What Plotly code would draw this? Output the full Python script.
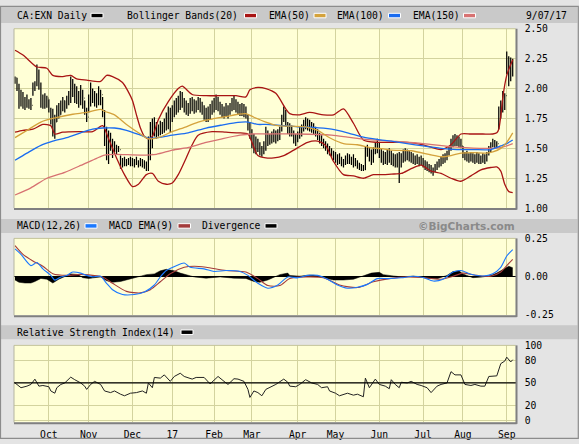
import plotly.graph_objects as go

# ---------------- data ----------------
month_labels = ["Oct", "Nov", "Dec", "17", "Feb", "Mar", "Apr", "May", "Jun", "Jul", "Aug", "Sep"]
# trading days per month: Sep-16 (partial) ... Sep-17 (partial)
month_days = [17, 20, 22, 20, 21, 19, 23, 19, 22, 22, 20, 22, 4]

# daily prices in cents
high_c = [
    210, 209, 204, 199, 197, 193, 195, 191, 192, 205, 206, 220, 216, 205, 195, 196, 194,
    191, 184, 183, 178, 186, 188, 190, 193, 190, 194, 198, 210, 208, 204, 202, 198, 203, 199, 190, 184,
    195, 205, 200, 198, 196, 202, 199, 193, 182, 168, 165, 163, 158, 156, 153, 152, 144, 142, 143, 141, 142, 143,
    142, 141, 143, 140, 142, 141, 140, 139, 160, 172, 175, 176, 172, 170, 173, 172, 175, 180, 185, 184,
    186, 190, 192, 194, 198, 197, 192, 190, 188, 192, 193, 191, 190, 193, 192, 189, 186, 184, 185, 187, 190,
    192, 195, 193, 189, 187, 185, 188, 186, 188, 192, 194, 191, 189, 187, 188, 187, 185, 178, 172,
    166, 162, 160, 158, 155, 152, 156, 168, 165, 162, 164, 166, 165, 166, 168, 178, 185, 182, 172, 171, 169, 165, 162,
    164, 168, 170, 174, 176, 175, 174, 172, 171, 168, 166, 163, 161, 158, 156, 154, 152, 150, 148,
    147, 145, 146, 143, 141, 144, 146, 145, 143, 145, 142, 140, 138, 137, 136, 152, 153, 150, 149, 151, 155, 158,
    155, 150, 148, 147, 149, 150, 148, 146, 145, 146, 147, 146, 149, 150, 149, 148, 147, 146, 144, 145, 143, 144,
    142, 140, 139, 137, 136, 134, 137, 139, 141, 143, 145, 146, 148, 152, 158, 161, 162, 161, 160, 158,
    152, 147, 148, 146, 147, 146, 145, 147, 146, 144, 146, 145, 147, 152, 155, 158, 157, 156, 185, 190, 198, 196,
    231, 227, 226, 225,
]
low_c = [
    204, 198, 183, 185, 183, 182, 184, 183, 182, 194, 198, 202, 199, 184, 183, 183, 184,
    180, 170, 160, 158, 172, 175, 178, 181, 180, 183, 186, 188, 193, 188, 187, 184, 186, 183, 178, 172,
    180, 185, 188, 185, 184, 186, 186, 176, 152, 140, 137, 148, 142, 147, 145, 147, 133, 134, 135, 135, 136, 135,
    135, 134, 136, 134, 135, 134, 133, 131, 131, 140, 150, 160, 158, 160, 161, 162, 163, 165, 166, 163,
    172, 176, 178, 180, 182, 184, 180, 178, 177, 179, 181, 179, 180, 182, 180, 178, 174, 172, 172, 174, 178,
    180, 182, 181, 178, 176, 175, 177, 175, 178, 181, 182, 180, 178, 177, 177, 176, 175, 165, 158,
    150, 146, 145, 147, 144, 143, 145, 148, 152, 153, 154, 155, 154, 156, 157, 164, 172, 168, 162, 160, 160, 154, 152,
    155, 158, 160, 164, 166, 165, 164, 163, 162, 160, 157, 154, 152, 150, 148, 145, 144, 143, 140,
    138, 136, 137, 135, 134, 136, 137, 137, 136, 134, 135, 133, 132, 131, 131, 132, 143, 139, 136, 138, 145, 146,
    142, 138, 136, 137, 136, 138, 136, 135, 134, 134, 121, 134, 138, 139, 140, 139, 138, 137, 136, 137, 135, 136,
    134, 132, 131, 130, 129, 127, 130, 132, 134, 135, 137, 138, 140, 144, 148, 151, 152, 152, 151, 150,
    142, 140, 139, 138, 139, 138, 137, 138, 137, 137, 138, 137, 139, 144, 147, 151, 150, 150, 166, 175, 180, 182,
    212, 202, 206, 210,
]
close_c = [
    209, 200, 190, 195, 186, 188, 187, 189, 186, 200, 204, 215, 202, 188, 190, 186, 192,
    183, 176, 165, 172, 182, 178, 186, 190, 184, 192, 190, 205, 198, 195, 190, 193, 188, 192, 181, 176,
    188, 198, 194, 190, 193, 190, 195, 180, 156, 150, 160, 152, 155, 150, 149, 149, 138, 140, 137, 139, 138, 140,
    138, 139, 137, 138, 140, 136, 135, 133, 155, 145, 170, 168, 166, 164, 170, 167, 172, 176, 182, 180,
    182, 188, 184, 190, 195, 188, 185, 182, 186, 188, 190, 184, 188, 191, 186, 183, 178, 180, 176, 183, 186,
    188, 190, 185, 183, 180, 182, 184, 179, 186, 189, 190, 185, 184, 182, 185, 180, 178, 168, 162,
    155, 150, 156, 150, 148, 146, 154, 160, 156, 158, 160, 158, 162, 163, 165, 176, 178, 170, 168, 166, 163, 158, 160,
    162, 165, 168, 172, 170, 173, 168, 170, 166, 164, 160, 158, 155, 152, 150, 148, 146, 145, 143,
    140, 142, 139, 137, 138, 141, 143, 139, 141, 138, 137, 135, 134, 133, 132, 150, 146, 142, 140, 148, 152, 150,
    145, 141, 145, 140, 146, 142, 139, 141, 137, 140, 136, 144, 145, 147, 146, 143, 144, 140, 141, 139, 138, 140,
    137, 135, 134, 132, 131, 132, 135, 137, 139, 141, 143, 144, 146, 150, 156, 158, 160, 157, 155, 152,
    145, 145, 142, 141, 144, 140, 142, 143, 139, 141, 143, 140, 145, 150, 153, 155, 153, 154, 182, 188, 185, 194,
    225, 210, 220, 218,
]

# indicator lines (trading-day index, value)
bb_up_x = [0, 4, 8, 11, 16, 19, 24, 28, 31, 36, 43, 46, 49, 54, 57, 59, 61, 63, 65, 67, 69, 72, 77, 82, 84, 89, 96,
           103, 111, 116, 118, 122, 126, 131, 136, 138, 143, 148, 155, 160, 165, 170, 175, 182, 188, 197, 205, 214,
           219, 224, 229, 235, 240, 242, 243, 244, 245, 246, 247, 248, 249, 250]
bb_up_y = [2.32, 2.28, 2.22, 2.18, 2.17, 2.11, 2.10, 2.11, 2.08, 2.07, 2.06, 2.11, 2.10, 2.05, 1.97, 1.90, 1.78, 1.67,
           1.60, 1.58, 1.60, 1.74, 1.89, 2.00, 2.02, 1.95, 1.94, 1.94, 1.94, 1.93, 1.99, 2.01, 2.00, 1.96, 1.83, 1.79,
           1.78, 1.80, 1.78, 1.78, 1.83, 1.71, 1.57, 1.55, 1.55, 1.55, 1.53, 1.49, 1.53, 1.62, 1.62, 1.62, 1.62, 1.63,
           1.66, 1.77, 1.92, 2.03, 2.11, 2.16, 2.20, 2.24]
bb_lo_x = [0, 4, 9, 14, 18, 20, 24, 33, 39, 44, 47, 51, 55, 59, 62, 66, 69, 72, 76, 79, 82, 86, 89, 92, 99, 106, 112,
           117, 119, 122, 126, 130, 135, 140, 147, 152, 156, 160, 165, 170, 175, 180, 185, 189, 194, 199, 204, 209,
           214, 219, 224, 229, 234, 239, 242, 244, 246, 248, 250]
bb_lo_y = [1.635, 1.65, 1.66, 1.70, 1.69, 1.62, 1.635, 1.64, 1.64, 1.69, 1.58, 1.42, 1.28, 1.18, 1.20, 1.28, 1.29,
           1.225, 1.20, 1.21, 1.28, 1.42, 1.53, 1.61, 1.64, 1.635, 1.63, 1.62, 1.55, 1.44, 1.42, 1.42, 1.44, 1.485,
           1.55, 1.56, 1.525, 1.39, 1.28, 1.27, 1.25, 1.28, 1.28, 1.285, 1.29, 1.33, 1.36, 1.31, 1.29, 1.25, 1.225,
           1.27, 1.32, 1.34, 1.345, 1.31, 1.20, 1.14, 1.13]
ema50_x = [0, 6, 13, 19, 29, 36, 43, 45, 50, 56, 63, 67, 72, 79, 86, 92, 99, 106, 112, 116, 120, 126, 132, 139, 146,
           152, 159, 165, 172, 179, 185, 189, 199, 209, 214, 219, 224, 230, 237, 240, 244, 247, 250]
ema50_y = [1.59, 1.65, 1.72, 1.75, 1.785, 1.80, 1.826, 1.81, 1.78, 1.70, 1.62, 1.58, 1.59, 1.64, 1.68, 1.72, 1.745,
           1.766, 1.785, 1.79, 1.76, 1.72, 1.69, 1.685, 1.68, 1.65, 1.58, 1.54, 1.53, 1.505, 1.495, 1.485, 1.48,
           1.445, 1.43, 1.44, 1.46, 1.465, 1.46, 1.47, 1.50, 1.55, 1.63]
ema100_x = [0, 6, 13, 19, 26, 33, 39, 44, 50, 56, 63, 67, 72, 79, 87, 96, 104, 112, 117, 122, 126, 134, 142, 150,
            159, 167, 175, 182, 189, 197, 205, 214, 222, 230, 239, 244, 247, 250]
ema100_y = [1.40, 1.46, 1.525, 1.56, 1.59, 1.63, 1.66, 1.67, 1.67, 1.65, 1.61, 1.586, 1.59, 1.61, 1.63, 1.67, 1.695,
            1.717, 1.72, 1.70, 1.70, 1.69, 1.68, 1.676, 1.66, 1.63, 1.594, 1.575, 1.56, 1.54, 1.52, 1.50, 1.49, 1.49,
            1.49, 1.52, 1.54, 1.57]
ema150_x = [0, 8, 16, 25, 33, 41, 45, 50, 63, 71, 79, 88, 96, 104, 113, 119, 127, 142, 159, 167, 176, 189, 205, 222,
            239, 245, 250]
ema150_y = [1.11, 1.17, 1.25, 1.30, 1.357, 1.417, 1.444, 1.45, 1.444, 1.45, 1.485, 1.51, 1.55, 1.58, 1.61, 1.62,
            1.62, 1.62, 1.61, 1.594, 1.575, 1.56, 1.54, 1.51, 1.50, 1.51, 1.54]

macd_x = [0, 3, 8, 11, 14, 18, 20, 23, 26, 29, 33, 36, 39, 43, 46, 49, 54, 60, 65, 70, 73, 76, 81, 85, 88, 95, 100,
          106, 113, 117, 122, 127, 132, 137, 142, 147, 152, 157, 162, 167, 172, 177, 182, 187, 194, 200, 205, 210,
          215, 220, 224, 229, 235, 240, 244, 247, 250]
macd_y = [0.184, 0.148, 0.074, 0.095, 0.053, 0.01, -0.021, 0.0, 0.01, 0.032, 0.025, 0.01, 0.0, 0.004, -0.042,
          -0.084, -0.116, -0.116, -0.099, -0.053, 0.0, 0.042, 0.074, 0.091, 0.063, 0.053, 0.036, 0.042, 0.036,
          0.01, -0.042, -0.074, -0.053, 0.0, -0.006, 0.01, 0.01, -0.015, -0.053, -0.074, -0.068, -0.049, -0.011,
          -0.011, -0.006, 0.004, -0.004, -0.027, -0.015, 0.032, 0.042, 0.017, 0.006, 0.021, 0.063, 0.137, 0.179]
signal_x = [0, 4, 9, 14, 19, 26, 33, 39, 44, 49, 56, 63, 68, 73, 78, 85, 90, 96, 106, 116, 122, 127, 133, 138, 146,
            155, 163, 172, 180, 188, 197, 205, 214, 220, 225, 232, 239, 244, 247, 250]
signal_y = [0.205, 0.148, 0.105, 0.07, 0.021, 0.01, 0.017, 0.01, 0.0, -0.042, -0.095, -0.105, -0.084, -0.032, 0.021,
            0.063, 0.07, 0.063, 0.042, 0.032, -0.011, -0.057, -0.057, -0.01, 0.0, -0.006, -0.053, -0.07, -0.032,
            -0.011, 0.0, -0.004, -0.015, 0.004, 0.025, 0.01, 0.004, 0.032, 0.074, 0.116]
div_x = [0, 2, 5, 8, 10, 13, 16, 19, 22, 25, 28, 32, 34, 37, 40, 43, 46, 49, 53, 56, 60, 63, 66, 70, 73, 76, 80, 83,
         86, 90, 96, 103, 110, 116, 120, 123, 127, 130, 133, 137, 138, 143, 148, 152, 155, 160, 165, 170, 175, 179,
         183, 185, 189, 194, 200, 207, 212, 217, 220, 223, 225, 230, 235, 239, 242, 245, 248, 250]
div_y = [-0.02, -0.035, -0.04, -0.04, -0.03, -0.01, -0.015, -0.04, -0.015, 0.0, 0.02, 0.015, -0.005, -0.01, -0.005,
         0.0, -0.025, -0.035, -0.03, -0.02, -0.01, 0.005, 0.015, 0.02, 0.04, 0.05, 0.04, 0.025, 0.015, 0.0, -0.008,
         0.0, -0.008, -0.01, -0.03, -0.035, -0.02, 0.0, 0.015, 0.025, 0.01, 0.005, 0.012, 0.008, -0.005, -0.02,
         -0.02, -0.015, 0.01, 0.025, 0.03, 0.015, 0.008, 0.0, 0.005, -0.008, -0.012, 0.01, 0.035, 0.04, 0.02,
         -0.005, 0.0, 0.01, 0.025, 0.045, 0.07, 0.06]

rsi_x = [0, 2, 3, 6, 8, 10, 12, 14, 17, 18, 20, 21, 23, 25, 28, 30, 33, 35, 36, 38, 40, 43, 45, 48, 50, 53, 55, 58,
         61, 64, 66, 67, 69, 70, 73, 75, 78, 80, 83, 85, 89, 91, 95, 98, 100, 102, 105, 107, 110, 112, 115, 117,
         118, 120, 122, 124, 126, 129, 131, 135, 137, 138, 141, 143, 146, 149, 152, 154, 157, 158, 161, 163, 165,
         167, 170, 172, 175, 176, 178, 181, 183, 186, 188, 189, 191, 193, 194, 197, 199, 202, 204, 207, 209, 212,
         214, 217, 219, 221, 224, 226, 229, 231, 234, 236, 238, 240, 242, 244, 246, 247, 249, 250]
rsi_y = [50, 45.7, 43.6, 45.7, 48, 55, 45.7, 46.6, 44.9, 39.3, 36.3, 43.6, 47.9, 50, 57.7, 54.3, 50, 45.7, 41.4, 48,
         52.1, 48, 39.3, 37.1, 39.3, 35, 32.9, 36.3, 37.1, 39.3, 36.3, 50, 43.6, 57.3, 56.4, 60.7, 52.1, 58.6, 62.9,
         58.6, 55.1, 57.3, 57.3, 48.7, 54.3, 58.6, 52.1, 48, 55.6, 55.1, 52.1, 41.4, 30.7, 39.3, 37.1, 32.9, 41.4,
         44.9, 48, 55.1, 50.9, 45.7, 44.9, 48, 54.3, 50, 48, 43.6, 44.9, 39.3, 36.3, 32.9, 35, 36.3, 33.7, 35, 31.6,
         56.4, 43.6, 55.1, 48, 45.7, 42.3, 54.3, 48, 43.6, 50.9, 50, 52.1, 48, 46.6, 43.6, 37.1, 45.7, 48, 50, 65,
         60.7, 60.7, 48, 46.6, 48, 45.7, 45.7, 58.6, 59.4, 59.4, 75.7, 79.1, 84.3, 77.9, 80.9]
RSI_MID = 50

price_ticks = [1.00, 1.25, 1.50, 1.75, 2.00, 2.25, 2.50]
macd_ticks = [-0.25, 0.0, 0.25]
rsi_ticks = [0, 20, 50, 80, 100]

# ---------------- derived ----------------
n = min(len(high_c), len(low_c), len(close_c))
idx = list(range(n))
high = [v / 100 for v in high_c[:n]]
low = [v / 100 for v in low_c[:n]]
close = [v / 100 for v in close_c[:n]]
opn = [close[0]] + close[:-1]

month_idx = []
s = 0
for d in month_days[:-1]:
    s += d
    month_idx.append(s)

# ---------------- style ----------------
W, H = 579, 444
FONT = "DejaVu Sans Mono"
FS = 9.7
PAPER = "#e4e4e4"
BAR = "#c9c9c9"
PLOTBG = "#ffffd6"
GRID = "#d3d39e"
C_BB = "#a81414"
C_E50 = "#d4a23c"
C_E100 = "#1a6cf0"
C_E150 = "#d77272"
C_MACD = "#1a78ff"
C_SIG = "#a33a3a"


def fx(x):
    return x / W


def fy(y):
    return 1 - y / H


X0, X1 = 14, 515.7
XR = [-0.5, 251.5]

fig = go.Figure()

# price panel
for xs, ys, col in [(bb_up_x, bb_up_y, C_BB), (bb_lo_x, bb_lo_y, C_BB), (ema150_x, ema150_y, C_E150),
                    (ema100_x, ema100_y, C_E100), (ema50_x, ema50_y, C_E50)]:
    fig.add_trace(go.Scatter(x=xs, y=ys, mode="lines", line=dict(color=col, width=1.3, shape="spline", smoothing=0.7),
                             xaxis="x", yaxis="y", hoverinfo="skip"))
fig.add_trace(go.Ohlc(x=idx, open=opn, high=high, low=low, close=close, xaxis="x", yaxis="y",
                      increasing=dict(line=dict(color="black", width=1.25)),
                      decreasing=dict(line=dict(color="black", width=1.25)), tickwidth=0.25))

# MACD panel
fig.add_trace(go.Scatter(x=div_x, y=div_y, mode="lines", fill="tozeroy", fillcolor="black",
                         line=dict(color="black", width=0.5), xaxis="x2", yaxis="y2", hoverinfo="skip"))
fig.add_trace(go.Scatter(x=signal_x, y=signal_y, mode="lines", line=dict(color=C_SIG, width=1.1, shape="spline", smoothing=0.7),
                         xaxis="x2", yaxis="y2", hoverinfo="skip"))
fig.add_trace(go.Scatter(x=macd_x, y=macd_y, mode="lines", line=dict(color=C_MACD, width=1.1, shape="spline", smoothing=0.7),
                         xaxis="x2", yaxis="y2", hoverinfo="skip"))

# RSI panel
fig.add_trace(go.Scatter(x=rsi_x, y=rsi_y, mode="lines", line=dict(color="#222222", width=1),
                         xaxis="x3", yaxis="y3", hoverinfo="skip"))

tickfont = dict(family=FONT, size=FS, color="black")
xcommon = dict(range=XR, domain=[fx(X0), fx(X1)], tickvals=month_idx, showgrid=True, gridcolor=GRID,
               gridwidth=1, zeroline=False, showline=False, fixedrange=True)
ycommon = dict(side="right", showline=False, ticks="outside", ticklen=6, tickcolor="rgba(0,0,0,0)",
               tickfont=tickfont, fixedrange=True)

layout = dict(
    width=W, height=H, autosize=False,
    margin=dict(l=0, r=0, t=0, b=0, pad=0),
    paper_bgcolor=PAPER, plot_bgcolor=PLOTBG, showlegend=False,
    xaxis=dict(**xcommon, anchor="y", showticklabels=False, rangeslider=dict(visible=False)),
    xaxis2=dict(**xcommon, anchor="y2", showticklabels=False),
    xaxis3=dict(**xcommon, anchor="y3", showticklabels=True, ticktext=month_labels, tickfont=tickfont,
                ticks="outside", ticklen=3, tickcolor="rgba(0,0,0,0)"),
    yaxis=dict(**ycommon, anchor="x", domain=[fy(207.3), fy(23.3)], range=[1.0, 2.5], tickvals=price_ticks,
               ticktext=["%.2f" % v for v in price_ticks], showgrid=True, gridcolor=GRID, zeroline=False),
    yaxis2=dict(**ycommon, anchor="x2", domain=[fy(317.3), fy(238.3)], range=[-0.253, 0.253], tickvals=macd_ticks,
                ticktext=["%.2f" % v for v in macd_ticks], showgrid=False, zeroline=True, zerolinecolor="black",
                zerolinewidth=1),
    yaxis3=dict(**ycommon, anchor="x3", domain=[fy(427), fy(348)], range=[-2.6, 100], tickvals=rsi_ticks,
                ticktext=[str(v) for v in rsi_ticks], showgrid=True, gridcolor=GRID, zeroline=False),
)
fig.update_layout(**layout)

shapes = []
# header bars
for y0, y1 in [(1, 17.5), (218.3, 232.7), (327.3, 341.7)]:
    shapes.append(dict(type="rect", xref="paper", yref="paper", x0=fx(1), x1=fx(577.5), y0=fy(y1), y1=fy(y0),
                       fillcolor=BAR, line=dict(width=0), layer="below"))
# plot frame lines
for top, bot in [(23.3, 207.3), (238.3, 317.3), (348, 427)]:
    shapes.append(dict(type="line", xref="paper", yref="paper", x0=fx(X0), x1=fx(X1), y0=fy(top), y1=fy(top),
                       line=dict(color="#c4c49a", width=1), layer="above"))
    shapes.append(dict(type="line", xref="paper", yref="paper", x0=fx(X0), x1=fx(X0), y0=fy(top), y1=fy(bot),
                       line=dict(color="#b5b5a0", width=1), layer="above"))
    shapes.append(dict(type="line", xref="paper", yref="paper", x0=fx(X0), x1=fx(X1 + 1), y0=fy(bot + 0.8),
                       y1=fy(bot + 0.8), line=dict(color="#808080", width=2), layer="above"))
    shapes.append(dict(type="line", xref="paper", yref="paper", x0=fx(X1 + 0.8), x1=fx(X1 + 0.8), y0=fy(top),
                       y1=fy(bot + 1.5), line=dict(color="#808080", width=2), layer="above"))
# RSI mid line
shapes.append(dict(type="line", xref="x3 domain", yref="y3", x0=0, x1=1, y0=RSI_MID, y1=RSI_MID,
                   line=dict(color="black", width=1.2), layer="above"))
# outer border
shapes.append(dict(type="rect", xref="paper", yref="paper", x0=fx(0.5), x1=fx(578.3), y0=fy(443.3), y1=fy(0.3),
                   line=dict(color="#8c8c8c", width=1.2), fillcolor="rgba(0,0,0,0)", layer="above"))

annotations = []


def label(x, y, text, color="black", anchor="left", bold=False, family=FONT, size=FS):
    t = "<b>%s</b>" % text if bold else text
    annotations.append(dict(xref="paper", yref="paper", x=fx(x), y=fy(y), text=t, showarrow=False,
                            xanchor=anchor, yanchor="middle", font=dict(family=family, size=size, color=color)))


def swatch(x0, x1, yc, color):
    shapes.append(dict(type="rect", xref="paper", yref="paper", x0=fx(x0), x1=fx(x1), y0=fy(yc + 2.3),
                       y1=fy(yc - 2.3), fillcolor=color, line=dict(color="white", width=1), layer="above"))


# top header
ty = 9.8
label(14.5, ty, "CA:EXN Daily")
swatch(91, 103, ty, "black")
label(125, ty, "Bollinger Bands(20)")
swatch(244.5, 256.5, ty, C_BB)
label(266.5, ty, "EMA(50)")
swatch(314, 326, ty, C_E50)
label(335, ty, "EMA(100)")
swatch(388.5, 400.5, ty, C_E100)
label(410.5, ty, "EMA(150)")
swatch(463.5, 475.5, ty, C_E150)
label(523.5, ty, "9/07/17")

# MACD header
my = 225.5
label(14.5, my, "MACD(12,26)")
swatch(85, 97, my, C_MACD)
label(106.5, my, "MACD EMA(9)")
swatch(178, 190.5, my, C_SIG)
label(199.5, my, "Divergence")
swatch(265, 277, my, "black")
label(517, my, "©BigCharts.com", color="#8a8a8a", anchor="right", bold=True, family="DejaVu Sans", size=10.5)

# RSI header
ry = 334.5
label(14.5, ry, "Relative Strength Index(14)")
swatch(181, 193, ry, "black")

fig.update_layout(shapes=shapes, annotations=annotations)
fig.write_html("out.html", config={"displayModeBar": False, "staticPlot": True},
               post_script="document.body.style.margin='0';document.body.style.overflow='hidden';")
